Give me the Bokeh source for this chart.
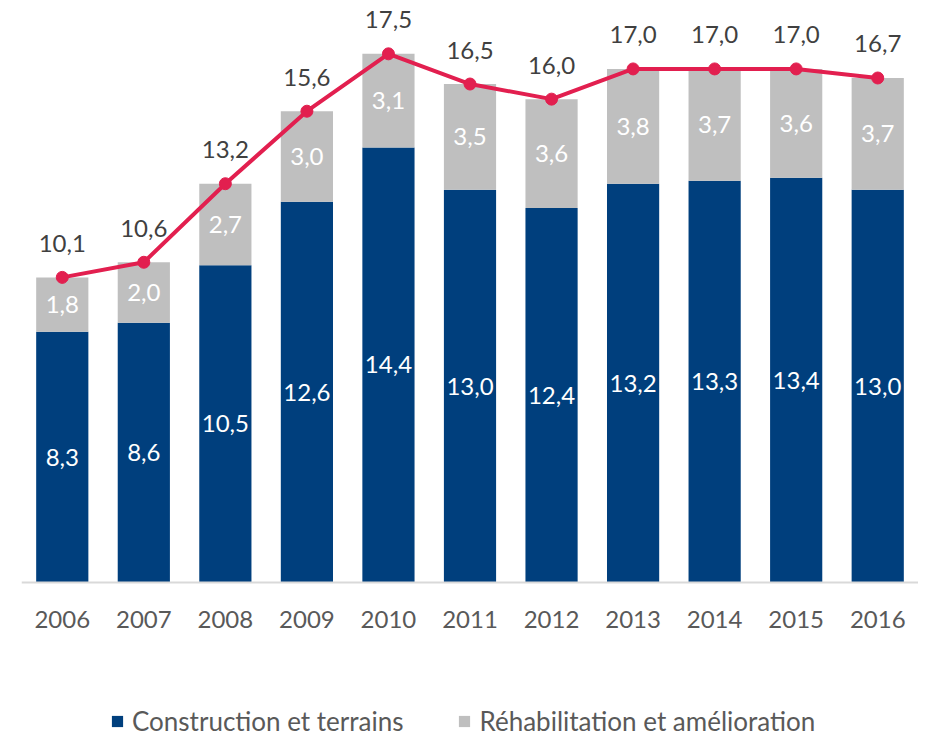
from bokeh.plotting import figure
from bokeh.models import ColumnDataSource, LabelSet, Legend, LegendItem, Range1d, FactorRange, CategoricalAxis
from bokeh.core.properties import value
from bokeh.embed import file_html
from bokeh.resources import INLINE

years = ["2006", "2007", "2008", "2009", "2010", "2011", "2012", "2013", "2014", "2015", "2016"]
construction = [8.3, 8.6, 10.5, 12.6, 14.4, 13.0, 12.4, 13.2, 13.3, 13.4, 13.0]
rehabilitation = [1.8, 2.0, 2.7, 3.0, 3.1, 3.5, 3.6, 3.8, 3.7, 3.6, 3.7]
total = [10.1, 10.6, 13.2, 15.6, 17.5, 16.5, 16.0, 17.0, 17.0, 17.0, 16.7]

BLUE = "#003F7D"
GREY = "#BFBFBF"
RED = "#E21F4F"
FONT = "Lato"

def fmt(v):
    return f"{v:.1f}".replace(".", ",")

src = ColumnDataSource(dict(
    year=years,
    construction=construction,
    rehabilitation=rehabilitation,
    total=total,
    c_mid=[c / 2 for c in construction],
    r_mid=[c + r / 2 for c, r in zip(construction, rehabilitation)],
    c_lab=[fmt(v) for v in construction],
    r_lab=[fmt(v) for v in rehabilitation],
    t_lab=[fmt(v) for v in total],
))

p = figure(frame_width=897, frame_height=729, x_range=FactorRange(*years, range_padding=0),
           y_range=Range1d(-5.13, 19.0), output_backend="svg", toolbar_location=None,
           x_axis_location=None, y_axis_location=None,
           min_border_left=21, min_border_right=0, min_border_top=8, min_border_bottom=0)
p.outline_line_color = None
p.grid.visible = False
p.background_fill_color = "white"
p.border_fill_color = "white"

r = p.vbar_stack(["construction", "rehabilitation"], x="year", width=0.64,
                 color=[BLUE, GREY], line_color=None, source=src)

p.line("year", "total", source=src, color=RED, line_width=4)
p.scatter("year", "total", source=src, size=12, color=RED)

lab_kw = dict(text_font=value(FONT), text_font_size=value("24px"), text_align="center",
              text_baseline="middle", source=src)
p.add_layout(LabelSet(x="year", y="c_mid", text="c_lab", text_color="white", **lab_kw))
p.add_layout(LabelSet(x="year", y="r_mid", text="r_lab", text_color="white", **lab_kw))
p.add_layout(LabelSet(x="year", y="total", text="t_lab", text_color="#404040", y_offset=34, **lab_kw))

ax = CategoricalAxis(fixed_location=0)
ax.axis_line_color = "#D9D9D9"
ax.axis_line_width = 2
ax.major_tick_line_color = None
ax.minor_tick_line_color = None
ax.major_label_text_font = FONT
ax.major_label_text_font_size = "24px"
ax.major_label_text_color = "#595959"
ax.major_label_standoff = 22
p.add_layout(ax, "below")

legend = Legend(items=[LegendItem(label="Construction et terrains", renderers=[r[0]]),
                       LegendItem(label="Réhabilitation et amélioration", renderers=[r[1]])],
                orientation="horizontal", location=(89, 0),
                label_text_font=FONT, label_text_font_size="26px", label_text_color="#595959",
                glyph_width=14, glyph_height=14, label_standoff=8, spacing=54,
                border_line_color=None, background_fill_alpha=0, margin=0, padding=0)
p.add_layout(legend, "center")

open("out.html", "w").write(file_html(p, INLINE))
